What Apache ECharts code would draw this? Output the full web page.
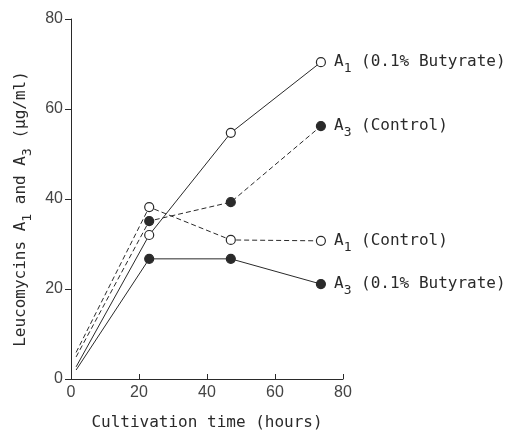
<!DOCTYPE html>
<html><head><meta charset="utf-8">
<script src="https://cdn.jsdelivr.net/npm/echarts@6/dist/echarts.min.js"></script>
<style>html,body{margin:0;padding:0;background:#fff}#c{width:508px;height:430px}</style>
</head><body><div id="c"></div>
<script>
// Time points (hours)
const hours = [1.5, 23, 47, 73.5];
// Series values (µg/ml)
const a1Butyrate = [2.7, 32, 54.7, 70.4];
const a3Control  = [4.9, 35.1, 39.3, 56.2];
const a1Control  = [5.9, 38.2, 30.9, 30.7];
const a3Butyrate = [2.0, 26.7, 26.7, 21.1];
const xTicks = [0, 20, 40, 60, 80];
const yTicks = [0, 20, 40, 60, 80];

const ink = '#2a2a2a';
const mono = '"DejaVu Sans Mono", "Liberation Mono", monospace';
const rich = {
  t: {fontFamily: mono, fontSize: 16, color: ink},
  s: {fontFamily: mono, fontSize: 13, color: ink, padding: [13, 0, 0, 0]}
};

function mk(name, vals, sub, cond, filled, dashed) {
  const data = hours.map((h, i) => {
    const d = {value: [h, vals[i]]};
    if (i === 0) d.symbolSize = 0;
    if (i === hours.length - 1) {
      d.label = {
        show: true, position: 'right', distance: 8,
        formatter: '{t|A}{s|' + sub + '}{t| (' + cond + ')}',
        rich: rich
      };
    }
    return d;
  });
  return {
    name: name, type: 'line', data: data,
    symbol: 'circle', symbolSize: 9,
    itemStyle: {color: filled ? ink : '#fff', borderColor: ink, borderWidth: 1.2},
    lineStyle: {color: ink, width: 1, type: dashed ? [5, 3] : 'solid'},
    label: {show: false},
    animation: false, z: filled ? 3 : 4
  };
}

const chart = echarts.init(document.getElementById('c'));
chart.setOption({
  backgroundColor: '#fff',
  animation: false,
  grid: {left: 71, right: 165, top: 19, bottom: 51, containLabel: false, outerBoundsMode: 'none'},
  xAxis: {
    type: 'value', min: 0, max: 80, interval: 20,
    name: 'Cultivation time (hours)', nameLocation: 'middle', nameGap: 36,
    nameTextStyle: {fontFamily: mono, fontSize: 16, color: ink},
    axisLine: {lineStyle: {color: ink, width: 1}},
    axisTick: {inside: true, length: 5, lineStyle: {color: ink}},
    axisLabel: {fontFamily: '"Liberation Sans", Arial, sans-serif', fontSize: 16, color: '#444', margin: 6,
      formatter: v => xTicks.includes(v) ? String(v) : ''},
    splitLine: {show: false}
  },
  yAxis: {
    type: 'value', min: 0, max: 80, interval: 20,
    name: '{t|Leucomycins A}{s|1}{t| and A}{s|3}{t| (μg/ml)}',
    nameLocation: 'middle', nameGap: 33, nameRotate: 90,
    nameTextStyle: {rich: rich, fontFamily: mono, fontSize: 16, color: ink, padding: [0, 20, 0, 0]},
    axisLine: {show: true, lineStyle: {color: ink, width: 1}},
    axisTick: {show: true, inside: false, length: 6, lineStyle: {color: ink}},
    axisLabel: {fontFamily: '"Liberation Sans", Arial, sans-serif', fontSize: 16, color: '#444', margin: 8,
      formatter: v => yTicks.includes(v) ? String(v) : ''},
    splitLine: {show: false}
  },
  series: [
    mk('A1 (0.1% Butyrate)', a1Butyrate, '1', '0.1% Butyrate', false, false),
    mk('A3 (Control)', a3Control, '3', 'Control', true, true),
    mk('A1 (Control)', a1Control, '1', 'Control', false, true),
    mk('A3 (0.1% Butyrate)', a3Butyrate, '3', '0.1% Butyrate', true, false)
  ]
});
</script></body></html>
